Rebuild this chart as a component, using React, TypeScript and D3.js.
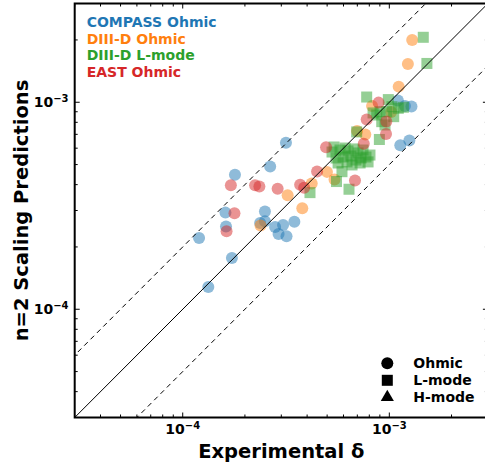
import React, { useEffect, useRef } from 'react';
import * as d3 from 'd3';

// (values, log-log)
const compassX = [1.2e-4, 1.33e-4, 1.73e-4, 1.61e-4, 1.62e-4, 1.79e-4, 2.65e-4, 3.16e-4, 2.5e-4, 2.37e-4, 2.5e-4, 2.8e-4, 3.06e-4, 2.91e-4, 3.18e-4, 3.47e-4, 1.1e-3, 1.19e-3, 1.28e-3, 1.13e-3, 1.25e-3];
const compassY = [2.21e-4, 1.28e-4, 1.77e-4, 2.93e-4, 2.51e-4, 4.46e-4, 4.9e-4, 6.38e-4, 2.97e-4, 2.61e-4, 2.66e-4, 2.5e-4, 2.55e-4, 2.31e-4, 2.25e-4, 2.65e-4, 1.02e-3, 9.6e-4, 9.54e-4, 6.2e-4, 6.54e-4];

const d3dOhmicX = [1.29e-3, 1.23e-3, 1.11e-3, 8.25e-4, 6.98e-4, 7.65e-4, 4.99e-4, 5.43e-4, 4.21e-4, 3.22e-4, 3.79e-4, 2.38e-4, 1.02e-3];
const d3dOhmicY = [2.0e-3, 1.53e-3, 1.19e-3, 9.6e-4, 7.27e-4, 6.99e-4, 4.61e-4, 4.24e-4, 4.05e-4, 3.55e-4, 3.08e-4, 2.54e-4, 8.98e-4];

const d3dLmodeX = [
  1.46e-3, 1.52e-3, 7.77e-4, 9.89e-4, 8.95e-4, 6.95e-4, 5.9e-4, 5.55e-4, 6.38e-4, 4.13e-4,
  8.69e-4, 9.19e-4, 9.71e-4, 1.03e-3, 1.105e-3, 1.17e-3, 1.05e-3, 9.02e-4, 9.53e-4, 8.34e-4,
  5.28e-4, 5.52e-4, 5.77e-4, 5.97e-4, 6.24e-4, 6.31e-4, 6.52e-4, 6.75e-4, 6.9e-4, 7.06e-4,
  7.3e-4, 7.46e-4, 7.71e-4, 8.06e-4, 5.65e-4, 6.11e-4, 6.6e-4, 7.22e-4, 5.4e-4, 7.89e-4,
];
const d3dLmodeY = [
  2.06e-3, 1.54e-3, 1.06e-3, 1.03e-3, 6.61e-4, 7.19e-4, 4.62e-4, 4.14e-4, 3.8e-4, 3.66e-4,
  8.68e-4, 8.06e-4, 9.01e-4, 9.52e-4, 9.35e-4, 9.46e-4, 8.52e-4, 9.01e-4, 7.77e-4, 8.88e-4,
  5.75e-4, 5.38e-4, 5.88e-4, 5.44e-4, 5.15e-4, 5.82e-4, 5.5e-4, 5.95e-4, 5.26e-4, 5.69e-4,
  5.38e-4, 5.88e-4, 5.44e-4, 5.56e-4, 5.09e-4, 6.01e-4, 4.98e-4, 5.09e-4, 6.08e-4, 5.15e-4,
];

const eastX = [1.71e-4, 1.78e-4, 1.63e-4, 2.24e-4, 2.35e-4, 2.88e-4, 3.7e-4, 3.87e-4, 4.47e-4, 4.94e-4, 6.82e-4, 7.52e-4, 7.77e-4, 8.87e-4, 9.67e-4, 9.64e-4];
const eastY = [3.97e-4, 2.91e-4, 2.38e-4, 3.97e-4, 3.92e-4, 3.82e-4, 3.99e-4, 3.86e-4, 4.63e-4, 6.07e-4, 4.19e-4, 6.31e-4, 8.26e-4, 9.96e-4, 8.07e-4, 7.03e-4];

const seriesNames = ['COMPASS Ohmic', 'DIII-D Ohmic', 'DIII-D L-mode', 'EAST Ohmic'];
const seriesColors = ['#1f77b4', '#ff7f0e', '#2ca02c', '#d62728'];
const modeNames = ['Ohmic', 'L-mode', 'H-mode'];
const refFactors = [1, 2, 0.5];
const majorTicks = [1e-4, 1e-3];

export default function App() {
  const ref = useRef<SVGSVGElement>(null);

  useEffect(() => {
    const svg = d3.select(ref.current);
    svg.selectAll('*').remove();
    const width = 485;
    const height = 463;
    const font = '"DejaVu Sans", sans-serif';

    const x = d3.scaleLog().domain([3e-5, 3e-3]).range([74.7, 487.9]);
    const y = d3.scaleLog().domain([3e-5, 3e-3]).range([417.5, 3.5]);
    const [x0, x1] = x.range();
    const [y0, y1] = y.range();

    svg.append('rect').attr('width', width).attr('height', height).attr('fill', '#fff');

    svg
      .append('clipPath')
      .attr('id', 'plot-clip')
      .append('rect')
      .attr('x', x0)
      .attr('y', y1)
      .attr('width', x1 - x0)
      .attr('height', y0 - y1);

    const plot = svg.append('g').attr('clip-path', 'url(#plot-clip)');

    const series = [
      { xs: compassX, ys: compassY, shape: 'circle' },
      { xs: d3dOhmicX, ys: d3dOhmicY, shape: 'circle' },
      { xs: d3dLmodeX, ys: d3dLmodeY, shape: 'square' },
      { xs: eastX, ys: eastY, shape: 'circle' },
    ];

    series.forEach((s, i) => {
      const pts = s.xs.map((v, j) => [v, s.ys[j]]);
      if (s.shape === 'circle') {
        plot
          .append('g')
          .selectAll('circle')
          .data(pts)
          .join('circle')
          .attr('cx', (d) => x(d[0]))
          .attr('cy', (d) => y(d[1]))
          .attr('r', 6)
          .attr('fill', seriesColors[i])
          .attr('fill-opacity', 0.5);
      } else {
        plot
          .append('g')
          .selectAll('rect')
          .data(pts)
          .join('rect')
          .attr('x', (d) => x(d[0]) - 5.5)
          .attr('y', (d) => y(d[1]) - 5.5)
          .attr('width', 11)
          .attr('height', 11)
          .attr('fill', seriesColors[i])
          .attr('fill-opacity', 0.5);
      }
    });

    // y = x, y = 2x, y = x/2
    const line = d3
      .line<number[]>()
      .x((d) => x(d[0]))
      .y((d) => y(d[1]));
    const ends = [1e-5, 1e-2];
    refFactors.forEach((f) => {
      plot
        .append('path')
        .datum(ends.map((v) => [v, v * f]))
        .attr('fill', 'none')
        .attr('stroke', '#000')
        .attr('stroke-width', 1)
        .attr('stroke-dasharray', f === 1 ? null : '5,4')
        .attr('d', line);
    });

    // ticks, inward on all four sides
    const ticks = x.ticks();
    const isMajor = (t: number) => majorTicks.some((m) => Math.abs(t / m - 1) < 1e-6);
    const tg = svg.append('g').attr('stroke', '#000').attr('stroke-width', 1);
    ticks.forEach((t) => {
      const len = isMajor(t) ? 5 : 3;
      const px = x(t);
      const py = y(t);
      tg.append('line').attr('x1', px).attr('x2', px).attr('y1', y0).attr('y2', y0 - len);
      tg.append('line').attr('x1', px).attr('x2', px).attr('y1', y1).attr('y2', y1 + len);
      tg.append('line').attr('y1', py).attr('y2', py).attr('x1', x0).attr('x2', x0 + len);
      tg.append('line').attr('y1', py).attr('y2', py).attr('x1', x1).attr('x2', x1 - len);
    });

    svg
      .append('rect')
      .attr('x', x0)
      .attr('y', y1)
      .attr('width', x1 - x0)
      .attr('height', y0 - y1)
      .attr('fill', 'none')
      .attr('stroke', '#000')
      .attr('stroke-width', 2);

    const expLabel = (g: any, t: number) => {
      const e = Math.round(Math.log10(t));
      g.append('tspan').text('10');
      g.append('tspan').attr('font-size', 10).attr('dy', -5).text('\u2212' + Math.abs(e));
    };

    majorTicks.forEach((t) => {
      const tx = svg
        .append('text')
        .attr('x', x(t))
        .attr('y', 433.5)
        .attr('text-anchor', 'middle')
        .attr('font-family', font)
        .attr('font-weight', 'bold')
        .attr('font-size', 14);
      expLabel(tx, t);
      const ty = svg
        .append('text')
        .attr('x', 68.5)
        .attr('y', y(t) + 4.5)
        .attr('text-anchor', 'end')
        .attr('font-family', font)
        .attr('font-weight', 'bold')
        .attr('font-size', 14);
      expLabel(ty, t);
    });

    svg
      .append('text')
      .attr('x', (x0 + x1) / 2)
      .attr('y', 458)
      .attr('text-anchor', 'middle')
      .attr('font-family', font)
      .attr('font-weight', 'bold')
      .attr('font-size', 19.5)
      .text('Experimental δ');

    svg
      .append('text')
      .attr('transform', `translate(27.5,${(y0 + y1) / 2}) rotate(-90)`)
      .attr('text-anchor', 'middle')
      .attr('font-family', font)
      .attr('font-weight', 'bold')
      .attr('font-size', 19.5)
      .text('n=2 Scaling Predictions');

    // series legend (coloured text)
    seriesNames.forEach((name, i) => {
      svg
        .append('text')
        .attr('x', 86.7)
        .attr('y', 26.7 + i * 16.8)
        .attr('font-family', font)
        .attr('font-weight', 'bold')
        .attr('font-size', 14)
        .attr('fill', seriesColors[i])
        .text(name);
    });

    // marker legend
    const lg = svg.append('g');
    modeNames.forEach((name, i) => {
      const cy = 363.3 + i * 17;
      if (i === 0) lg.append('circle').attr('cx', 387.3).attr('cy', cy).attr('r', 6);
      if (i === 1) lg.append('rect').attr('x', 381.8).attr('y', cy - 5.5).attr('width', 11).attr('height', 11);
      if (i === 2)
        lg.append('path')
          .attr('transform', `translate(387.3,${cy})`)
          .attr('d', d3.symbol(d3.symbolTriangle, 75)());
      lg.append('text')
        .attr('x', 413.3)
        .attr('y', cy + 4.5)
        .attr('font-family', font)
        .attr('font-weight', 'bold')
        .attr('font-size', 14)
        .text(name);
    });
  }, []);

  return (
    <svg
      ref={ref}
      width={485}
      height={463}
      style={{ position: 'absolute', left: 0, top: 0 }}
    ></svg>
  );
}
